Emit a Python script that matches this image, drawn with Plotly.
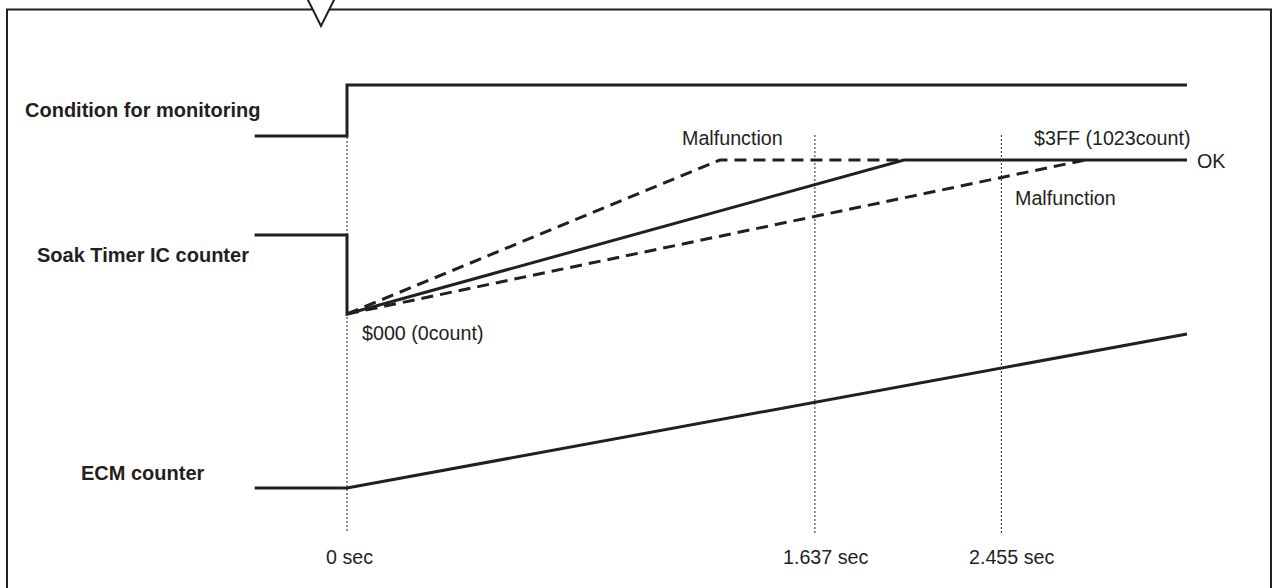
import plotly.graph_objects as go

# ---------------- data (schematic time units; counts) ----------------
t_pre = -11.0            # start of the drawn history, before monitoring starts
t_start = 0.0            # 0 sec: monitoring condition turns on
t_fast_full = 44.4       # malfunction (fast) counter reaches $3FF
t_ok_full = 66.3         # normal counter reaches $3FF
t_slow_full = 87.9       # malfunction (slow) counter reaches $3FF
t_end = 100.0            # end of the drawn window

tick_times = [0.0, 55.7, 77.9]
tick_labels = ["0 sec", "1.637 sec", "2.455 sec"]

cond_t = [t_pre, t_start, t_start, t_end]
cond_v = [0, 0, 1, 1]

soak_ok_t = [t_pre, t_start, t_start, t_ok_full, t_end]
soak_ok_v = [525, 525, 0, 1023, 1023]

soak_fast_t = [t_start, t_fast_full, t_ok_full]
soak_fast_v = [0, 1023, 1023]

soak_slow_t = [t_start, t_slow_full]
soak_slow_v = [0, 1023]

ecm_t = [t_pre, t_start, t_end]
ecm_v = [0, 0, 1023]

row_labels = ["Condition for monitoring", "Soak Timer IC counter", "ECM counter"]

# ---------------- layout helpers ----------------
W, H = 1278, 588
INK = "#231f20"
FONT = "Liberation Sans, Arial, Helvetica, sans-serif"


def px(x):
    return x / W


def py(y):
    return 1 - y / H


def yrange(v0, p0, v1, p1):
    s = (v1 - v0) / (p0 - p1)
    return [v0 - (H - p0) * s, v1 + p1 * s]


X0_PX, X_SCALE = 347, 8.4
x_range = [(0 - X0_PX) / X_SCALE, (W - X0_PX) / X_SCALE]

fig = go.Figure()

line_solid = dict(color=INK, width=3)
line_dash = dict(color=INK, width=3, dash="12px,7px")

fig.add_trace(go.Scatter(x=soak_fast_t, y=soak_fast_v, yaxis="y2", mode="lines", line=line_dash))
fig.add_trace(go.Scatter(x=soak_slow_t, y=soak_slow_v, yaxis="y2", mode="lines", line=line_dash))
fig.add_trace(go.Scatter(x=cond_t, y=cond_v, yaxis="y", mode="lines", line=line_solid))
fig.add_trace(go.Scatter(x=soak_ok_t, y=soak_ok_v, yaxis="y2", mode="lines", line=line_solid))
fig.add_trace(go.Scatter(x=ecm_t, y=ecm_v, yaxis="y3", mode="lines", line=line_solid))

shapes = []
# vertical dotted time markers
guide_tops = [85, 135, 135]
for t, top in zip(tick_times, guide_tops):
    shapes.append(dict(type="line", xref="x", yref="paper", x0=t, x1=t,
                       y0=py(top), y1=py(533), line=dict(color=INK, width=1, dash="2px,2px"),
                       layer="below"))

# frame with notch
frame = dict(color=INK, width=2)
shapes.append(dict(type="path", xref="paper", yref="paper",
                   path=f"M {px(7)},{py(H + 2)} L {px(7)},{py(9.5)} L {px(312)},{py(9.5)}",
                   line=frame))
shapes.append(dict(type="path", xref="paper", yref="paper",
                   path=f"M {px(330)},{py(9.5)} L {px(1271)},{py(9.5)} L {px(1271)},{py(H + 2)}",
                   line=frame))
shapes.append(dict(type="path", xref="paper", yref="paper",
                   path=f"M {px(307)},{py(-2)} L {px(321)},{py(26)} L {px(335)},{py(-2)}",
                   line=frame))

ann = []
bold_txt = dict(family=FONT, size=20, color=INK)
txt = dict(family=FONT, size=19.7, color=INK)
# row labels
for lab, yy in zip(row_labels, [110, 255, 473]):
    ann.append(dict(text=f"<b>{lab}</b>", xref="paper", yref="paper", x=px(143), y=py(yy),
                    xanchor="center", yanchor="middle", showarrow=False, font=bold_txt))
# time labels
for t, lab, sh in zip(tick_times, tick_labels, [2, 11, 11]):
    ann.append(dict(text=lab, xref="x", yref="paper", x=t, y=py(557), xshift=sh,
                    xanchor="center", yanchor="middle", showarrow=False, font=txt))

ann.append(dict(text="$000 (0count)", xref="x", yref="paper", x=t_start, xshift=13, y=py(333),
                xanchor="left", yanchor="middle", showarrow=False, font=txt))
ann.append(dict(text="Malfunction", xref="x", yref="paper", x=t_fast_full, xshift=13, y=py(138),
                xanchor="center", yanchor="middle", showarrow=False, font=txt))
ann.append(dict(text="$3FF (1023count)", xref="x", yref="paper", x=t_end, xshift=6, y=py(138),
                xanchor="right", yanchor="middle", showarrow=False, font=txt))
ann.append(dict(text="OK", xref="x", yref="paper", x=t_end, xshift=8, y=py(161),
                xanchor="left", yanchor="middle", showarrow=False, font=txt))
ann.append(dict(text="Malfunction", xref="x", yref="paper", x=tick_times[2], xshift=12, y=py(198),
                xanchor="left", yanchor="middle", showarrow=False, font=txt))

hidden = dict(visible=False, showgrid=False, zeroline=False, fixedrange=True)
fig.update_layout(
    width=W, height=H, margin=dict(l=0, r=0, t=0, b=0),
    paper_bgcolor="white", plot_bgcolor="white", showlegend=False,
    xaxis=dict(range=x_range, domain=[0, 1], **hidden),
    yaxis=dict(range=yrange(0, 136, 1, 85), domain=[0, 1], **hidden),
    yaxis2=dict(range=yrange(0, 314, 1023, 160), overlaying="y", **hidden),
    yaxis3=dict(range=yrange(0, 488, 1023, 334), overlaying="y", **hidden),
    shapes=shapes, annotations=ann,
)

fig.write_html(
    "out.html",
    config={"staticPlot": True},
    post_script="document.body.style.margin='0';document.body.style.overflow='hidden';",
)
